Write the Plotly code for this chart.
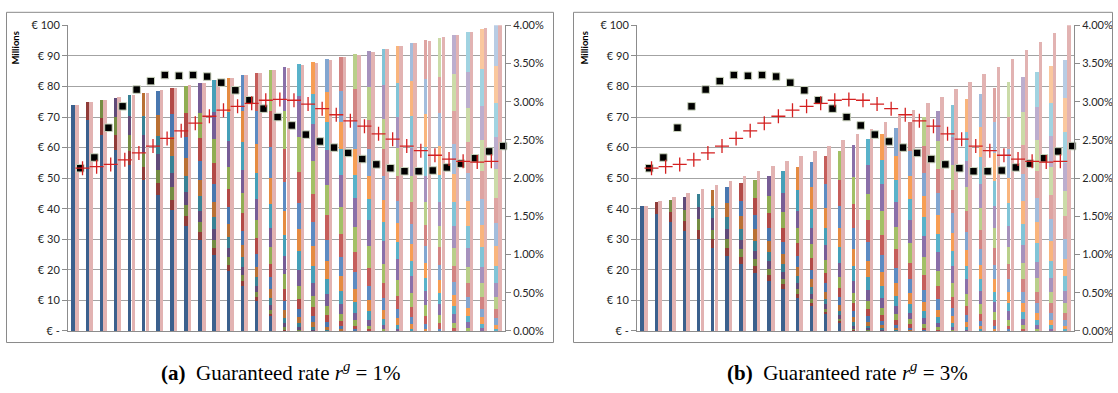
import plotly.graph_objects as go

# ---------------- data ----------------
times = list(range(31))

# panel (a): value of each cohort (bottom = oldest), listed from its entry year on (millions)
cohorts_a = [
    [74, 69.1, 64.1, 59.2, 54.3, 49.3, 44.4, 39.5, 34.5, 29.6, 24.7, 19.7, 14.8, 9.9, 4.9],
    [5.85, 5.46, 5.07, 4.68, 4.29, 3.90, 3.51, 3.12, 2.73, 2.34, 1.95, 1.56, 1.17, 0.78, 0.39],
    [6.0, 5.6, 5.2, 4.8, 4.4, 4.0, 3.6, 3.2, 2.8, 2.4, 2.0, 1.6, 1.2, 0.8, 0.4],
    [6.45, 6.02, 5.59, 5.16, 4.73, 4.30, 3.87, 3.44, 3.01, 2.58, 2.15, 1.72, 1.29, 0.86, 0.43],
    [6.9, 6.44, 5.98, 5.52, 5.06, 4.6, 4.14, 3.68, 3.22, 2.76, 2.3, 1.84, 1.38, 0.92, 0.46],
    [7.35, 6.86, 6.37, 5.88, 5.39, 4.9, 4.41, 3.92, 3.43, 2.94, 2.45, 1.96, 1.47, 0.98, 0.49],
    [7.95, 7.42, 6.89, 6.36, 5.83, 5.3, 4.77, 4.24, 3.71, 3.18, 2.65, 2.12, 1.59, 1.06, 0.53],
    [8.4, 7.84, 7.28, 6.72, 6.16, 5.6, 5.04, 4.48, 3.92, 3.36, 2.8, 2.24, 1.68, 1.12, 0.56],
    [9.0, 8.4, 7.8, 7.2, 6.6, 6.0, 5.4, 4.8, 4.2, 3.6, 3.0, 2.4, 1.8, 1.2, 0.6],
    [9.6, 8.96, 8.32, 7.68, 7.04, 6.4, 5.76, 5.12, 4.48, 3.84, 3.2, 2.56, 1.92, 1.28, 0.64],
    [10.35, 9.66, 8.97, 8.28, 7.59, 6.9, 6.21, 5.52, 4.83, 4.14, 3.45, 2.76, 2.07, 1.38, 0.69],
    [10.95, 10.22, 9.49, 8.76, 8.03, 7.3, 6.57, 5.84, 5.11, 4.38, 3.65, 2.92, 2.19, 1.46, 0.73],
    [11.7, 10.92, 10.14, 9.36, 8.58, 7.8, 7.02, 6.24, 5.46, 4.68, 3.9, 3.12, 2.34, 1.56, 0.78],
    [12.45, 11.62, 10.79, 9.96, 9.13, 8.3, 7.47, 6.64, 5.81, 4.98, 4.15, 3.32, 2.49, 1.66, 0.83],
    [13.35, 12.46, 11.57, 10.68, 9.79, 8.9, 8.01, 7.12, 6.23, 5.34, 4.45, 3.56, 2.67, 1.78, 0.89],
    [14.25, 13.3, 12.35, 11.4, 10.45, 9.5, 8.55, 7.6, 6.65, 5.7, 4.75, 3.8, 2.85, 1.9, 0.95],
    [10.35, 9.66, 8.97, 8.28, 7.59, 6.9, 6.21, 5.52, 4.83, 4.14, 3.45, 2.76, 2.07, 1.38, 0.69],
    [10.5, 9.8, 9.1, 8.4, 7.7, 7.0, 6.3, 5.6, 4.9, 4.2, 3.5, 2.8, 2.1, 1.4],
    [10.8, 10.08, 9.36, 8.64, 7.92, 7.2, 6.48, 5.76, 5.04, 4.32, 3.6, 2.88, 2.16],
    [11.1, 10.36, 9.62, 8.88, 8.14, 7.4, 6.66, 5.92, 5.18, 4.44, 3.7, 2.96],
    [11.4, 10.64, 9.88, 9.12, 8.36, 7.6, 6.84, 6.08, 5.32, 4.56, 3.8],
    [11.7, 10.92, 10.14, 9.36, 8.58, 7.8, 7.02, 6.24, 5.46, 4.68],
    [12.0, 11.2, 10.4, 9.6, 8.8, 8.0, 7.2, 6.4, 5.6],
    [12.15, 11.34, 10.53, 9.72, 8.91, 8.1, 7.29, 6.48],
    [12.45, 11.62, 10.79, 9.96, 9.13, 8.3, 7.47],
    [12.6, 11.76, 10.92, 10.08, 9.24, 8.4],
    [12.75, 11.9, 11.05, 10.2, 9.35],
    [12.9, 12.04, 11.18, 10.32],
    [13.05, 12.18, 11.31],
    [13.05, 12.18],
    [13.2],
]
pink_a = [74, 75, 75.5, 76.4, 77.3, 77.8, 78.8, 79.6, 80.4, 81, 82, 82.7, 83.6, 84.5, 85.3, 86.1,
          87, 87.8, 88.6, 89.5, 90.4, 91.3, 92.2, 93.3, 94.2, 95, 96.2, 97, 97.8, 99, 100]

# panel (b)
cohorts_b = [
    [41, 38.3, 35.5, 32.8, 30.1, 27.3, 24.6, 21.9, 19.1, 16.4, 13.7, 10.9, 8.2, 5.5, 2.7],
    [3.75, 3.5, 3.25, 3.0, 2.75, 2.5, 2.25, 2.0, 1.75, 1.5, 1.25, 1.0, 0.75, 0.5, 0.25],
    [3.9, 3.64, 3.38, 3.12, 2.86, 2.6, 2.34, 2.08, 1.82, 1.56, 1.3, 1.04, 0.78, 0.52, 0.26],
    [4.2, 3.92, 3.64, 3.36, 3.08, 2.8, 2.52, 2.24, 1.96, 1.68, 1.4, 1.12, 0.84, 0.56, 0.28],
    [4.5, 4.2, 3.9, 3.6, 3.3, 3.0, 2.7, 2.4, 2.1, 1.8, 1.5, 1.2, 0.9, 0.6, 0.3],
    [4.95, 4.62, 4.29, 3.96, 3.63, 3.3, 2.97, 2.64, 2.31, 1.98, 1.65, 1.32, 0.99, 0.66, 0.33],
    [5.25, 4.9, 4.55, 4.2, 3.85, 3.5, 3.15, 2.8, 2.45, 2.1, 1.75, 1.4, 1.05, 0.7, 0.35],
    [5.7, 5.32, 4.94, 4.56, 4.18, 3.8, 3.42, 3.04, 2.66, 2.28, 1.9, 1.52, 1.14, 0.76, 0.38],
    [6.15, 5.74, 5.33, 4.92, 4.51, 4.1, 3.69, 3.28, 2.87, 2.46, 2.05, 1.64, 1.23, 0.82, 0.41],
    [6.6, 6.16, 5.72, 5.28, 4.84, 4.4, 3.96, 3.52, 3.08, 2.64, 2.2, 1.76, 1.32, 0.88, 0.44],
    [7.2, 6.72, 6.24, 5.76, 5.28, 4.8, 4.32, 3.84, 3.36, 2.88, 2.4, 1.92, 1.44, 0.96, 0.48],
    [7.65, 7.14, 6.63, 6.12, 5.61, 5.1, 4.59, 4.08, 3.57, 3.06, 2.55, 2.04, 1.53, 1.02, 0.51],
    [8.4, 7.84, 7.28, 6.72, 6.16, 5.6, 5.04, 4.48, 3.92, 3.36, 2.8, 2.24, 1.68, 1.12, 0.56],
    [9.0, 8.4, 7.8, 7.2, 6.6, 6.0, 5.4, 4.8, 4.2, 3.6, 3.0, 2.4, 1.8, 1.2, 0.6],
    [9.75, 9.1, 8.45, 7.8, 7.15, 6.5, 5.85, 5.2, 4.55, 3.9, 3.25, 2.6, 1.95, 1.3, 0.65],
    [10.35, 9.66, 8.97, 8.28, 7.59, 6.9, 6.21, 5.52, 4.83, 4.14, 3.45, 2.76, 2.07, 1.38, 0.69],
    [8.4, 7.84, 7.28, 6.72, 6.16, 5.6, 5.04, 4.48, 3.92, 3.36, 2.8, 2.24, 1.68, 1.12, 0.56],
    [8.55, 7.98, 7.41, 6.84, 6.27, 5.7, 5.13, 4.56, 3.99, 3.42, 2.85, 2.28, 1.71, 1.14],
    [9.0, 8.4, 7.8, 7.2, 6.6, 6.0, 5.4, 4.8, 4.2, 3.6, 3.0, 2.4, 1.8],
    [9.3, 8.68, 8.06, 7.44, 6.82, 6.2, 5.58, 4.96, 4.34, 3.72, 3.1, 2.48],
    [9.6, 8.96, 8.32, 7.68, 7.04, 6.4, 5.76, 5.12, 4.48, 3.84, 3.2],
    [9.9, 9.24, 8.58, 7.92, 7.26, 6.6, 5.94, 5.28, 4.62, 3.96],
    [10.35, 9.66, 8.97, 8.28, 7.59, 6.9, 6.21, 5.52, 4.83],
    [10.5, 9.8, 9.1, 8.4, 7.7, 7.0, 6.3, 5.6],
    [10.8, 10.08, 9.36, 8.64, 7.92, 7.2, 6.48],
    [11.1, 10.36, 9.62, 8.88, 8.14, 7.4],
    [11.4, 10.64, 9.88, 9.12, 8.36],
    [11.55, 10.78, 10.01, 9.24],
    [11.7, 10.92, 10.14],
    [12.0, 11.2],
    [12.15],
]
pink_b = [41, 42.5, 43.8, 45.1, 46.3, 47.7, 49.2, 50.8, 52.4, 53.9, 55.5, 57.2, 58.8, 60.6, 62.5, 64.3,
          66.2, 68.3, 70.3, 72.4, 74.6, 76.6, 79.1, 81.5, 84.0, 86.5, 88.9, 91.8, 94.4, 97.4, 100]

# secondary axis series (percent), identical in both panels
rate_squares = [2.13, 2.27, 2.66, 2.94, 3.16, 3.27, 3.35, 3.34, 3.35, 3.33, 3.25, 3.15, 3.02, 2.91, 2.80, 2.69,
                2.57, 2.48, 2.40, 2.33, 2.25, 2.18, 2.13, 2.09, 2.09, 2.10, 2.14, 2.19, 2.26, 2.35, 2.42]
rate_plus = [2.13, 2.15, 2.18, 2.24, 2.33, 2.42, 2.52, 2.62, 2.72, 2.81, 2.89, 2.94, 2.98, 3.02, 3.03, 3.02,
             2.97, 2.91, 2.83, 2.75, 2.68, 2.58, 2.51, 2.42, 2.36, 2.30, 2.25, 2.22, 2.21, 2.22, 2.24]

left_ticks = [0, 10, 20, 30, 40, 50, 60, 70, 80, 90, 100]
left_labels = ["€ -", "€ 10", "€ 20", "€ 30", "€ 40", "€ 50", "€ 60", "€ 70", "€ 80", "€ 90", "€ 100"]
right_ticks = [0, 0.5, 1.0, 1.5, 2.0, 2.5, 3.0, 3.5, 4.0]
right_labels = ["0.00%", "0.50%", "1.00%", "1.50%", "2.00%", "2.50%", "3.00%", "3.50%", "4.00%"]

captions = ["<b>(a)</b>&nbsp; Guaranteed rate <i>r</i><sup><i>g</i></sup>&nbsp;=&nbsp;1%",
            "<b>(b)</b>&nbsp; Guaranteed rate <i>r</i><sup><i>g</i></sup>&nbsp;=&nbsp;3%"]

# ---------------- style ----------------
W, H = 1118, 393
accents = ["#4F81BD", "#C0504D", "#9BBB59", "#8064A2", "#4BACC6", "#F79646"]
levels = [("shade", 0.75), ("shade", 0.93), ("tint", 0.08), ("tint", 0.30), ("tint", 0.48), ("tint", 0.60)]


def cohort_color(k):
    h = accents[k % 6]
    kind, f = levels[min(k // 6, 5)]
    rgb = [int(h[i:i + 2], 16) for i in (1, 3, 5)]
    if kind == "shade":
        rgb = [int(c * f) for c in rgb]
    else:
        rgb = [int(c + (255 - c) * f) for c in rgb]
    return "rgb(%d,%d,%d)" % tuple(rgb)


PINK = "#E2B3B2"
GRID = "#A3A3A3"
AXIS = "#8C8C8C"
FONT = dict(family="Lato, Liberation Sans, sans-serif", size=11, color="#262626")

fig = go.Figure()


def add_panel(cohorts, pink, xa, ya, ya2):
    for k, vals in enumerate(cohorts):
        xs = [times[k + i] - 0.13 for i in range(len(vals))]
        fig.add_trace(go.Bar(x=xs, y=vals, width=0.25, xaxis=xa, yaxis=ya,
                             marker=dict(color=cohort_color(k), line=dict(width=0)),
                             showlegend=False, hoverinfo="skip"))
    fig.add_trace(go.Bar(x=[t + 0.13 for t in times], y=pink, width=0.25, xaxis=xa, yaxis=ya,
                         marker=dict(color=PINK, line=dict(width=0)), showlegend=False))
    fig.add_trace(go.Scatter(x=[t + 0.37 for t in times], y=rate_squares, mode="markers",
                             xaxis=xa, yaxis=ya2, cliponaxis=False, showlegend=False,
                             marker=dict(symbol="square", size=7.5, color="black",
                                         line=dict(color="#C9D2BC", width=1))))
    fig.add_trace(go.Scatter(x=[t + 0.53 for t in times], y=rate_plus, mode="markers",
                             xaxis=xa, yaxis=ya2, cliponaxis=False, showlegend=False,
                             marker=dict(symbol="cross-thin", size=10, color="#D42020",
                                         line=dict(color="#D42020", width=1.3))))


add_panel(cohorts_a, pink_a, "x", "y", "y2")
add_panel(cohorts_b, pink_b, "x2", "y3", "y4")

ydom = [1 - 335 / H, 1 - 19 / H]
xdom_a = [68 / W, 505 / W]
xdom_b = [637 / W, 1074 / W]

xcommon = dict(range=[-0.5, 30.5], showticklabels=False, ticks="", showgrid=False, zeroline=False,
               showline=True, linecolor=AXIS, linewidth=1, fixedrange=True)
ycommon = dict(range=[0, 100], tickvals=left_ticks, ticktext=left_labels, showgrid=True, gridcolor=GRID,
               gridwidth=1, zeroline=False, showline=True, linecolor=AXIS, ticks="outside", ticklen=5,
               tickcolor=AXIS, tickfont=FONT, domain=ydom)
y2common = dict(range=[0, 4], tickvals=right_ticks, ticktext=right_labels, showgrid=False, zeroline=False,
                showline=True, linecolor=AXIS, ticks="outside", ticklen=5, tickcolor=AXIS, tickfont=FONT,
                side="right")

cap_font = dict(family="Liberation Serif, DejaVu Serif, serif", size=21, color="black")
mil_font = dict(family="Lato, Liberation Sans, sans-serif", size=9.5, color="black")

fig.update_layout(
    width=W, height=H, margin=dict(l=0, r=0, t=0, b=0),
    paper_bgcolor="white", plot_bgcolor="white", barmode="stack",
    xaxis=dict(domain=xdom_a, anchor="y", **xcommon),
    yaxis=dict(anchor="x", **ycommon),
    yaxis2=dict(anchor="x", overlaying="y", **y2common),
    xaxis2=dict(domain=xdom_b, anchor="y3", **xcommon),
    yaxis3=dict(anchor="x2", **ycommon),
    yaxis4=dict(anchor="x2", overlaying="y3", **y2common),
    shapes=[
        dict(type="rect", xref="paper", yref="paper", x0=6.5 / W, x1=553.5 / W, y0=1 - 347 / H, y1=1 - 5.5 / H,
             line=dict(color="#8A8A8A", width=1)),
        dict(type="rect", xref="paper", yref="paper", x0=573.5 / W, x1=1112.5 / W, y0=1 - 347 / H, y1=1 - 5.5 / H,
             line=dict(color="#8A8A8A", width=1)),
    ],
    annotations=[
        dict(text="<b>Millions</b>", textangle=-90, xref="paper", yref="paper", x=16 / W, y=1 - 43 / H,
             xanchor="center", yanchor="middle", showarrow=False, font=mil_font),
        dict(text="<b>Millions</b>", textangle=-90, xref="paper", yref="paper", x=585 / W, y=1 - 43 / H,
             xanchor="center", yanchor="middle", showarrow=False, font=mil_font),
        dict(text=captions[0], xref="paper", yref="paper", x=281 / W, y=1 - 377 / H,
             xanchor="center", yanchor="middle", showarrow=False, font=cap_font),
        dict(text=captions[1], xref="paper", yref="paper", x=847 / W, y=1 - 377 / H,
             xanchor="center", yanchor="middle", showarrow=False, font=cap_font),
    ],
)

fig.write_html("out.html")
